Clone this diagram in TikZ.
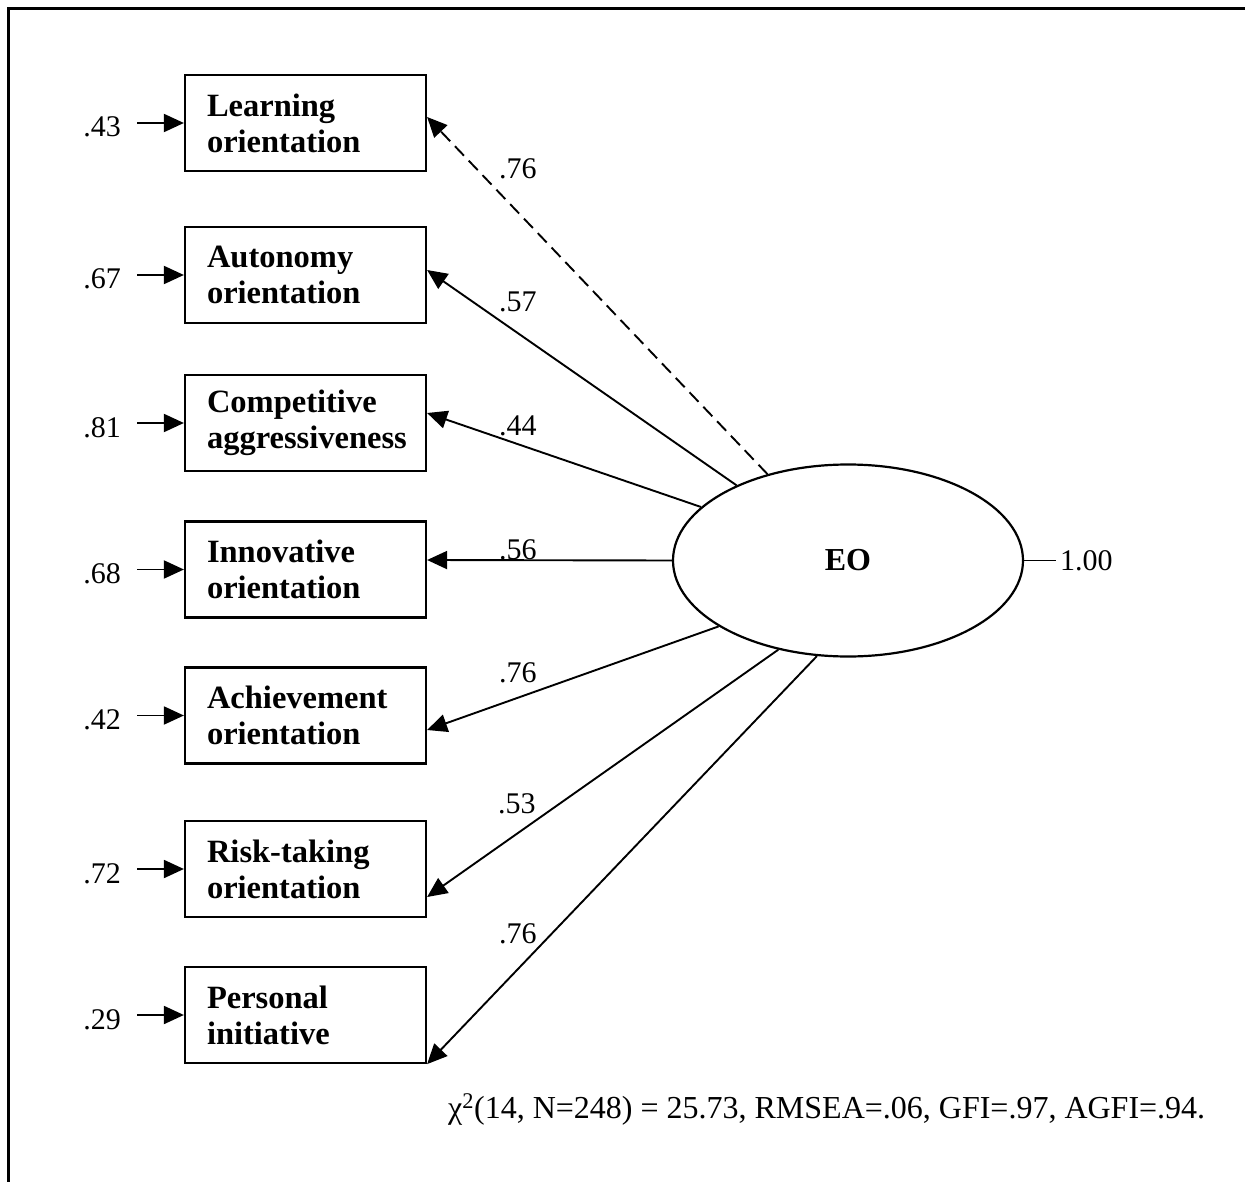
\documentclass[tikz,border=0pt]{standalone}
\usepackage{fontspec}
\setmainfont{Liberation Serif}
\usetikzlibrary{arrows.meta,shapes.geometric}

\begin{document}
\begin{tikzpicture}[x=1pt,y=-1pt,
  indicator/.style={draw, line width=2.2pt, rectangle, minimum width=241pt,
    minimum height=96pt, text width=197pt, inner xsep=22pt, inner ysep=0pt,
    align=left, font=\fontsize{32.5}{36}\selectfont\bfseries},
  latent/.style={draw, line width=2.2pt, ellipse, minimum width=350pt,
    minimum height=192pt, inner sep=0pt, font=\fontsize{32}{36}\selectfont\bfseries},
  num/.style={inner sep=0pt, font=\fontsize{30}{32}\selectfont},
  load/.style={line width=1.9pt, -{Triangle[length=20pt,width=18pt]}},
  err/.style={line width=1.9pt, -{Triangle[length=20pt,width=18pt]}, shorten <=16pt}]

\useasboundingbox (0,0) rectangle (1245,1182);

% frame (top and left rules)
\draw[line width=3pt] (8.5,1182) -- (8.5,9) -- (1245,9);

% observed indicators
\node[indicator] (lo) at (305.5,123)   {Learning\\orientation};
\node[indicator] (ao) at (305.5,275)   {Autonomy\\orientation};
\node[indicator] (ca) at (305.5,423)   {Competitive\\aggressiveness};
\node[indicator] (io) at (305.5,569.5) {Innovative\\orientation};
\node[indicator] (ac) at (305.5,715.5) {Achievement\\orientation};
\node[indicator] (rt) at (305.5,869)   {Risk-taking\\orientation};
\node[indicator] (pi) at (305.5,1015)  {Personal\\initiative};

% latent factor
\node[latent] (eo) at (848,560.5) {EO};

% error variances
\node[num, anchor=base east] (e1) at (121,137)    {.43};
\node[num, anchor=base east] (e2) at (121,289)    {.67};
\node[num, anchor=base east] (e3) at (121,437)    {.81};
\node[num, anchor=base east] (e4) at (121,583.5)  {.68};
\node[num, anchor=base east] (e5) at (121,729.5)  {.42};
\node[num, anchor=base east] (e6) at (121,883)    {.72};
\node[num, anchor=base east] (e7) at (121,1029)   {.29};

\draw[err] (e1.east |- lo.west) -- (lo.west);
\draw[err] (e2.east |- ao.west) -- (ao.west);
\draw[err] (e3.east |- ca.west) -- (ca.west);
\draw[err] (e4.east |- io.west) -- (io.west);
\draw[err] (e5.east |- ac.west) -- (ac.west);
\draw[err] (e6.east |- rt.west) -- (rt.west);
\draw[err] (e7.east |- pi.west) -- (pi.west);

% factor loadings
\draw[load, dash pattern=on 13pt off 7pt] (eo.133.3) -- ([yshift=6pt]lo.east);
\draw[load] (eo.146.2) -- ([yshift=5pt]ao.east);
\draw[load] (eo.160.5) -- ([yshift=10pt]ca.east);
\draw[load] (eo.180) -- ([yshift=9.5pt]io.east);
\draw[load] (eo.207.6) -- ([yshift=-14.5pt]ac.east);
\draw[load] (eo.232.9) -- ([yshift=-28pt]rt.east);
\draw[load] (eo.252.1) -- (pi.south east);

\node[num, anchor=base west] (l1) at (499,179) {.76};
\node[num, anchor=base west] (l2) at (499,312) {.57};
\node[num, anchor=base west] (l3) at (499,435) {.44};
\node[num, anchor=base west] (l4) at (499,559) {.56};
\node[num, anchor=base west] (l5) at (499,682) {.76};
\node[num, anchor=base west] (l6) at (498,813) {.53};
\node[num, anchor=base west] (l7) at (499,943) {.76};

% factor variance
\node[num, anchor=base west] (var) at (1060,570) {1.00};
\draw[line width=1.9pt, shorten >=4pt] (eo.east) -- (var.west |- eo.east);

% fit statistics
\node[inner sep=0pt, anchor=base west, font=\fontsize{32}{36}\selectfont] (fit)
  at (448,1118) {χ\textsuperscript{2}(14, N=248) = 25.73, RMSEA=.06, GFI=.97, AGFI=.94.};

\end{tikzpicture}
\end{document}
